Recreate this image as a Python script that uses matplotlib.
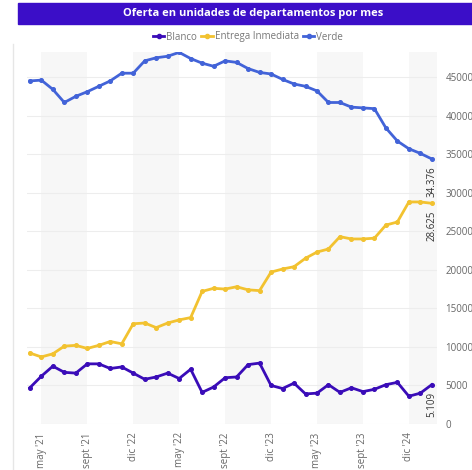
import matplotlib.pyplot as plt
from matplotlib.patches import Rectangle
from matplotlib.lines import Line2D

plt.rcParams['font.family'] = ['Open Sans', 'DejaVu Sans']

# monthly points, abr 2021 .. mar 2024
blanco = [4700, 6200, 7500, 6700, 6600, 7800, 7800, 7200, 7400, 6600,
          5800, 6100, 6600, 5900, 7100, 4100, 4800, 6000, 6100, 7700,
          7900, 5000, 4600, 5300, 3900, 4000, 5100, 4100, 4700, 4200,
          4500, 5100, 5400, 3600, 4000, 5109]
entrega = [9200, 8700, 9100, 10100, 10200, 9800, 10200, 10700, 10400, 13000,
           13100, 12500, 13100, 13500, 13800, 17200, 17600, 17500, 17800, 17400,
           17300, 19700, 20100, 20400, 21500, 22300, 22700, 24300, 24000, 24000,
           24100, 25800, 26200, 28800, 28800, 28625]
verde = [44500, 44600, 43400, 41700, 42500, 43100, 43800, 44500, 45500, 45500,
         47100, 47500, 47700, 48200, 47400, 46800, 46400, 47100, 46900, 46100,
         45600, 45400, 44700, 44100, 43800, 43200, 41700, 41700, 41100, 41000,
         40900, 38400, 36700, 35700, 35100, 34376]
end_labels = ['5.109', '28.625', '34.376']

tick_pos = [1, 5, 9, 13, 17, 21, 25, 29, 33]
tick_labels = ["may '21", "sept '21", "dic '22", "may '22", "sept '22",
               "dic '23", "may '23", "sept '23", "dic '24"]
y_ticks = list(range(0, 50000, 5000))

c_blanco = '#3a0cb8'
c_entrega = '#f2c230'
c_verde = '#4263d8'

fig = plt.figure(figsize=(4.72, 4.70), dpi=100)
ax = fig.add_axes([27 / 472, 46 / 470, 410 / 472, 372 / 470])

x = list(range(len(verde)))
xmax = 35.45

# shaded bands between alternate ticks
for i in range(0, len(tick_pos), 2):
    left = tick_pos[i]
    right = tick_pos[i + 1] if i + 1 < len(tick_pos) else xmax
    ax.axvspan(left, right, color='#f7f7f7', zorder=0, lw=0)

for vals, col in [(blanco, c_blanco), (entrega, c_entrega), (verde, c_verde)]:
    ax.plot(x, vals, color=col, lw=2.0, marker='o', ms=2.6, zorder=3,
            solid_joinstyle='round')

for vals, lab in zip([blanco, entrega, verde], end_labels):
    ax.annotate(lab, (x[-1], vals[-1]), xytext=(0, -5), textcoords='offset points',
                rotation=90, ha='center', va='top', fontsize=7, color='#333333')

ax.set_xlim(-0.25, xmax)
ax.set_ylim(0, 48250)
ax.set_xticks(tick_pos)
ax.set_xticklabels(tick_labels, rotation=90, fontsize=7, color='#666666')
ax.set_yticks(y_ticks)
ax.set_yticklabels([str(v) for v in y_ticks], fontsize=7, color='#666666')
ax.yaxis.tick_right()
ax.tick_params(length=0, pad=6)
ax.grid(axis='y', color='#ededed', lw=0.8, zorder=1)
for s in ax.spines.values():
    s.set_visible(False)

# title bar
fig.patches.append(Rectangle((18 / 472, 1 - 24 / 470), 1 - 18 / 472, 21 / 470,
                             transform=fig.transFigure, color='#3b0ec8', zorder=0))
fig.text(253 / 472, 1 - 13.5 / 470, 'Oferta en unidades de departamentos por mes',
         ha='center', va='center', color='white', fontsize=8, fontweight='bold')

# left border line
fig.add_artist(Line2D([13 / 472, 13 / 472], [0, 1 - 44 / 470],
                      transform=fig.transFigure, color='#e6e6e6', lw=1))

handles = [Line2D([], [], color=c, lw=2, marker='o', ms=3) for c in
           [c_blanco, c_entrega, c_verde]]
fig.legend(handles, ['Blanco', 'Entrega Inmediata', 'Verde'], loc='center',
           bbox_to_anchor=(248 / 472, 1 - 37 / 470), ncol=3, frameon=False,
           fontsize=7, labelcolor='#777777', handlelength=1.2, handletextpad=0.2,
           columnspacing=0.4)

fig.savefig('out.png', dpi=100)
